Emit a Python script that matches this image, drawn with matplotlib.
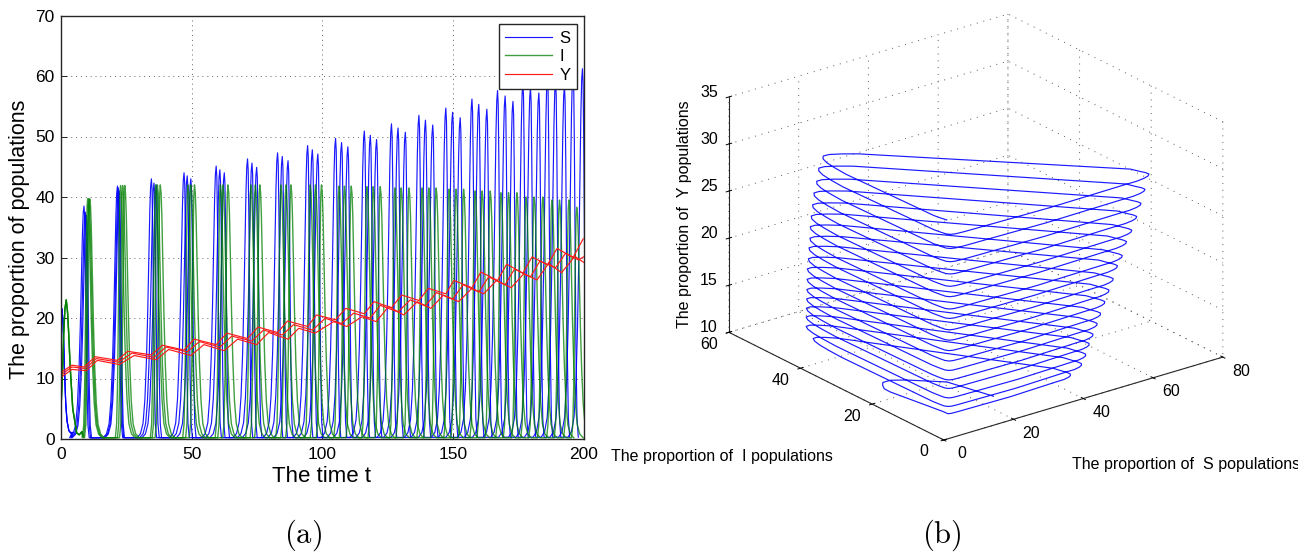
import numpy as np
import matplotlib
matplotlib.use('Agg')
import matplotlib.pyplot as plt
from mpl_toolkits.mplot3d import proj3d

plt.rcParams['font.family'] = ['Liberation Sans', 'DejaVu Sans']
plt.rcParams['mathtext.fontset'] = 'cm'

# --- values ---
# start of the run (t = 0 .. first trough)
S_HEAD_T = [0, .4, .8, 1.3, 1.8, 2.3, 3, 3.7, 4.3]
S_HEAD_V = [20.5, 21.5, 19, 12, 6, 3, 1.4, 1, 1.1]
I_HEAD_T = [0, .5, 1, 1.5, 2, 2.5, 3, 3.5, 4.5, 6, 7, 8]
I_HEAD_V = [5, 10, 17, 21.5, 23, 21, 17, 12, 5, 1, .7, 1.2]

# S peaks: time and height of each peak, three neighbouring runs
S_A_T = [8.8, 21.6, 34.6, 47.1, 59.4, 71.4, 82.9, 94.4, 105.1, 116.1, 126.5, 137, 147.3, 157.3, 167.1, 176.8, 186.2, 196]
S_A_V = [38.5, 41.8, 43, 44, 45.1, 46.3, 47.3, 48.5, 49.7, 50.9, 52.1, 53.5, 54.7, 56.2, 57.6, 58.8, 59.9, 61]
S_B_T = [9.3, 22, 35.6, 48.3, 60.8, 73.1, 84.7, 96.2, 107.4, 118.4, 129, 139.5, 149.9, 159.9, 170, 179.7, 189.3, 199.6]
S_B_V = [37.5, 41.5, 42.3, 43.5, 44.5, 45.6, 46.7, 47.8, 49, 50.2, 51.4, 52.7, 54, 55.3, 56.7, 58.1, 59.2, 61.2]
S_C_T = [9.7, 22.3, 36.5, 49.7, 62.5, 74.9, 86.9, 98.3, 109.8, 120.8, 131.8, 142.3, 152.8, 163, 173, 182.9, 192.7]
S_C_V = [37, 41, 42, 43, 44, 44.9, 46, 47.1, 48.3, 49.5, 50.7, 51.9, 53.1, 54.5, 55.8, 57.2, 58.3]

# I peaks
I_A_T = [10.2, 22.8, 36.2, 48.6, 61, 72.7, 84.2, 95.4, 106.4, 117.1, 127.8, 138.2, 148.5, 158.5, 168.4, 178, 187.9, 197.4]
I_A_V = [39.7, 41.9, 42, 42, 42, 42, 42, 42, 41.8, 41.7, 41.5, 41.5, 41.3, 41, 40.7, 40, 39.5, 38.3]
I_B_T = [10.6, 23.6, 36.9, 49.7, 62, 74.4, 86.1, 97.4, 108.5, 119.5, 130.2, 140.8, 151.2, 161.2, 171.3, 181.1, 190.8]
I_B_V = [39.7, 41.9, 42, 42, 42, 42, 42, 42, 41.8, 41.7, 41.5, 41.5, 41.3, 41, 40.7, 40, 39.5]
I_C_T = [11, 24.4, 38, 51.1, 63.9, 76.1, 88, 99.7, 111.1, 122.2, 133.2, 143.6, 154.1, 164.3, 174.5, 184.4, 194.4]
I_C_V = [39.7, 41.9, 42, 42, 42, 42, 42, 42, 41.8, 41.7, 41.5, 41.5, 41.3, 41, 40.7, 40, 39.5]

# pulse outline: time from peak, share of peak height
S_PULSE_DT = [-5.5, -4.2, -3.2, -2.5, -1.9, -1.4, -1, -.6, -.3, 0, .25, .5, .8, 1.1, 1.5, 2.0]
S_PULSE_F = [.005, .02, .06, .15, .3, .49, .69, .88, .97, 1, .96, .8, .52, .25, .06, .005]
I_PULSE_DT = [-2.0, -1.5, -1.1, -.8, -.5, -.25, 0, .3, .6, 1, 1.4, 1.9, 2.5, 3.2, 4.2, 5.5]
I_PULSE_F = [.005, .06, .25, .52, .8, .96, 1, .97, .88, .69, .49, .3, .15, .06, .02, .005]

# Y runs: corner points (trough, top, trough, ...)
Y_A_T = [0, 4.2, 8.8, 13.1, 21.6, 25.5, 34.6, 38.8, 47.1, 51, 59.4, 63.5, 71.4, 75.4, 82.9, 86.7, 94.4, 97.8, 105.1, 109, 116.1, 119.8, 126.5, 130.4, 137, 140.6, 147.3, 150.4, 157.3, 160.7, 167.1, 170.6, 176.8, 180.3, 186.2, 189.9, 196, 199.9]
Y_A_V = [11, 12.2, 11.9, 13.6, 13, 14.5, 13.9, 15.5, 14.7, 16.5, 15.6, 17.5, 16.6, 18.5, 17.6, 19.5, 18.6, 20.5, 19.7, 21.6, 20.7, 22.7, 21.7, 23.8, 22.9, 24.9, 24, 26.2, 25, 27.6, 26.2, 28.9, 27.4, 30.1, 28.8, 31.5, 30, 33.1]
Y_B_T = [0, 4.2, 9.3, 13.5, 22, 27.2, 35.6, 40.2, 48.3, 53, 60.8, 65.4, 73.1, 77.5, 84.7, 89, 96.3, 101.1, 107.4, 112, 118.4, 122.2, 129, 133.7, 139.5, 143.7, 149.9, 153.9, 159.9, 163.7, 170, 173.6, 179.7, 183.3, 189.3, 193.1, 198, 200]
Y_B_V = [10.6, 11.9, 11.65, 13.3, 12.7, 14.2, 13.5, 15.2, 14.4, 16.1, 15.2, 17, 16.2, 18, 17.2, 18.9, 18, 19.95, 19.1, 20.8, 20, 22.1, 21, 23, 22, 24.2, 23.1, 25.5, 24.3, 26.8, 25.5, 28.1, 26.8, 29.4, 28.3, 30.7, 29.6, 30.1]
Y_C_T = [0, 4.2, 9.7, 13.9, 22.3, 28, 36.5, 41.2, 49.7, 54.7, 62.5, 67.6, 74.9, 79.5, 86.9, 91, 97.2, 104.4, 109.4, 115.2, 120.7, 125.4, 131.2, 136.4, 141.6, 146.4, 152.2, 157.3, 161.8, 166.7, 172.3, 177.1, 182.2, 186.6, 191.6, 196.7, 200]
Y_C_V = [10.2, 11.5, 11.3, 13, 12.3, 13.8, 13.1, 14.8, 13.8, 15.6, 14.6, 16.5, 15.6, 17.6, 16.5, 18.3, 17.5, 19.4, 18.6, 20.2, 19.4, 21.9, 20.5, 22.7, 21.6, 23.8, 22.7, 24.9, 24, 26.2, 25, 27.3, 26.3, 29, 27.5, 30.2, 29.2]

X_TICKS = [0, 50, 100, 150, 200]
Y_TICKS = [0, 10, 20, 30, 40, 50, 60, 70]

# phase plot: start of the trajectory (S, I, Y)
PH_HEAD_S = [20.6, 17, 10, 6.8, 4.3, 2.9, 1.6, 1.2, 2]
PH_HEAD_I = [6.2, 15.7, 20.3, 21.5, 21.2, 19.9, 18.2, 16.1, 2]
PH_HEAD_Y = [11.2, 11.3, 11.4, 11.5, 11.6, 11.7, 11.8, 11.9, 12.4]
# Y where each loop passes the corner nearest the origin, plus the end value
PH_BASE_Y = [12.55, 13.3, 14.2, 15.2, 16.1, 17.1, 18.1, 19.2, 20.3, 21.4, 22.6, 23.6, 24.9, 26, 27.3, 28.6, 30, 31.5, 33]
# loop outline: share of S peak, share of I peak, share of the Y step to next loop
LOOP_S = [.04, .06, .10, .5, .86, .92, .96, .985, 1, .998, .985, .97, .6, .195, .14, .095, .065, .045, .03, .02, .012, .02, .025, .03]
LOOP_I = [.01, .005, .005, .005, .02, .022, .03, .04, .055, .075, .105, .145, .52, .93, .965, .985, .98, .95, .9, .83, .73, .1, .055, .025]
LOOP_Y = [0, -.02, -.05, -.15, -.22, -.24, -.25, -.25, -.25, -.24, -.22, -.2, .15, .53, .6, .66, .71, .75, .79, .83, .87, .97, .985, .995]

S_3D_TICKS = [0, 20, 40, 60, 80]
I_3D_TICKS = [0, 20, 40, 60]
Z_3D_TICKS = [10, 15, 20, 25, 30, 35]


def pulses(peak_t, peak_v, dt, frac, head_t=(), head_v=()):
    # string the read pulse outline through each read peak
    t = list(head_t)
    v = list(head_v)
    for pt, pv in zip(peak_t, peak_v):
        t += [pt + d for d in dt]
        v += [pv * f for f in frac]
    return t, v


W, H = 1298, 555
fig = plt.figure(figsize=(W / 100, H / 100), dpi=100)

# --- (a) time series ---
ax = fig.add_axes([61 / W, 1 - 439 / H, 522.5 / W, 423.5 / H])
dark = '#262626'
s_kw = dict(color='#0000ff', lw=0.85, alpha=0.9)
i_kw = dict(color='#007f00', lw=1.0, alpha=0.75)
y_kw = dict(color='#ff1a1a', lw=0.85)

for k, (pt, pv) in enumerate([(S_A_T, S_A_V), (S_B_T, S_B_V), (S_C_T, S_C_V)]):
    t, v = pulses(pt, pv, S_PULSE_DT, S_PULSE_F, S_HEAD_T, S_HEAD_V)
    ax.plot(t, v, label='S' if k == 0 else None, **s_kw)
for k, (pt, pv) in enumerate([(I_A_T, I_A_V), (I_B_T, I_B_V), (I_C_T, I_C_V)]):
    t, v = pulses(pt, pv, I_PULSE_DT, I_PULSE_F, I_HEAD_T, I_HEAD_V)
    ax.plot(t, v, label='I' if k == 0 else None, **i_kw)
ax.plot(Y_A_T, Y_A_V, label='Y', **y_kw)
ax.plot(Y_B_T, Y_B_V, **y_kw)
ax.plot(Y_C_T, Y_C_V, **y_kw)

ax.set_xlim(0, 200)
ax.set_ylim(0, 70)
ax.set_xticks(X_TICKS)
ax.set_yticks(Y_TICKS)
ax.tick_params(direction='in', length=4, width=0.7, labelsize=12.5, color=dark)
ax.tick_params(axis='x', pad=6)
ax.tick_params(axis='y', pad=4.5)
ax.grid(True, linestyle=(0, (1, 4)), linewidth=0.7, color='0.4')
ax.set_axisbelow(True)
for sp in ax.spines.values():
    sp.set_color(dark)
    sp.set_linewidth(1.0)
ax.set_xlabel('The time t', fontsize=16)
ax.set_ylabel('The proportion of populations', fontsize=15.5)
ax.xaxis.set_label_coords(261 / 522.5, -27 / 423.5, transform=ax.transAxes)
ax.yaxis.set_label_coords(-31 / 522.5, (439 - 239) / 423.5, transform=ax.transAxes)
leg = ax.legend(loc='upper right', bbox_to_anchor=(0.988, 0.9795), fancybox=False, framealpha=1,
                edgecolor=dark, fontsize=12, handlelength=2.8, labelspacing=0.2, borderaxespad=0,
                borderpad=0.4, handletextpad=0.45)
leg.get_frame().set_linewidth(1.0)
leg.set_zorder(20)

# --- (b) phase plot ---
ph_s, ph_i, ph_y = list(PH_HEAD_S), list(PH_HEAD_I), list(PH_HEAD_Y)
for k in range(len(S_A_V)):
    step = PH_BASE_Y[k + 1] - PH_BASE_Y[k]
    ph_s += [S_A_V[k] * f for f in LOOP_S]
    ph_i += [I_A_V[k] * f for f in LOOP_I]
    ph_y += [PH_BASE_Y[k] + step * f for f in LOOP_Y]

ax3 = fig.add_axes([0.5, 0.05, 0.45, 0.45 * W / H], projection='3d', proj_type='ortho')
ax3.patch.set_visible(False)
ax3.view_init(elev=22.7, azim=-127.6)
ax3.set_box_aspect((352, 352, 255))
ax3.plot(ph_s, ph_i, ph_y, color='#1a1aff', lw=0.85)
ax3.set_xlim(0, 80)
ax3.set_ylim(0, 60)
ax3.set_zlim(10, 35)
ax3.set_xticks(S_3D_TICKS)
ax3.set_yticks(I_3D_TICKS)
ax3.set_zticks(Z_3D_TICKS)
ax3.set_xticklabels([])
ax3.set_yticklabels([])
ax3.set_zticklabels([])
for axis in (ax3.xaxis, ax3.yaxis, ax3.zaxis):
    axis.pane.set_facecolor('none')
    axis.pane.set_edgecolor('none')
    axis.line.set_color(dark)
    axis.line.set_linewidth(0.8)
    axis._axinfo['grid'].update(color='0.35', linewidth=0.7, linestyle=(0, (1, 6)))
    axis._axinfo['tick'].update(inward_factor=0.12, outward_factor=0.12)
    axis._axinfo['tick']['linewidth'] = {True: 0.7, False: 0.7}
    axis._axinfo['tick']['color'] = dark


def to_px(s, i, y):
    xp, yp, _ = proj3d.proj_transform(s, i, y, ax3.get_proj())
    px, py = ax3.transData.transform((xp, yp))
    return px, H - py


# fit the box onto the corners seen in the picture
for _ in range(3):
    fig.canvas.draw()
    x0, y0 = to_px(0, 0, 10)
    x1, y1 = to_px(80, 60, 35)
    f = (440 - 14) / (y0 - y1)
    pos = ax3.get_position()
    cx = pos.x0 + pos.width / 2 + (943.8 - x0 * f - (pos.x0 + pos.width / 2) * W * (1 - f)) / W
    cy = pos.y0 + pos.height / 2 - (440 - y0 * f - (1 - pos.y0 - pos.height / 2) * H * (1 - f)) / H
    ax3.set_position([cx - pos.width * f / 2, cy - pos.height * f / 2, pos.width * f, pos.height * f])
fig.canvas.draw()


def px_text(px, py, s, **kw):
    fig.text(px / W, 1 - py / H, s, **kw)


tick_kw = dict(fontsize=11.5, ha='center', va='center')
for v in S_3D_TICKS:
    px, py = to_px(v, 0, 10)
    px_text(px + 18, py + 14, str(v), **tick_kw)
for v in I_3D_TICKS:
    px, py = to_px(0, v, 10)
    px_text(px - 20, py + 12, str(v), **tick_kw)
for v in Z_3D_TICKS:
    px, py = to_px(0, 60, v)
    px_text(px - 11, py - 4.7, str(v), fontsize=11.5, ha='right', va='center')

label_kw = dict(fontsize=11.5, va='center')
px_text(611, 457, 'The proportion of  I populations', ha='left', **label_kw)
px_text(1072, 464, 'The proportion of  S populations', ha='left', **label_kw)
px_text(684, 214, 'The proportion of  Y populations', ha='center', rotation=90, **label_kw)

px_text(303, 535, r'$\mathrm{(a)}$', fontsize=22, ha='center', va='center')
px_text(942, 535, r'$\mathrm{(b)}$', fontsize=22, ha='center', va='center')

fig.savefig('out.png', dpi=100)
